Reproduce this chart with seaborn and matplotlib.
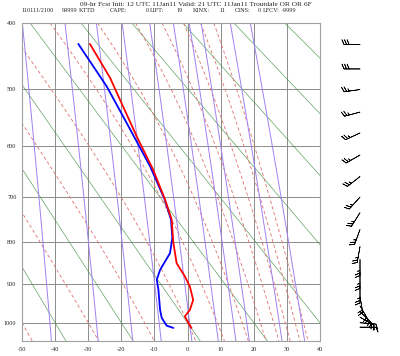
import numpy as np
import matplotlib
matplotlib.use('Agg')
import matplotlib.pyplot as plt
import seaborn as sns

sns.set_style("white")
plt.rcParams['font.family'] = ['Liberation Serif', 'DejaVu Serif']

# sounding (hPa, degC)
pres_t = [430, 482, 518, 583, 644, 706, 749, 800, 849, 881, 906, 940, 966, 983, 1000, 1014]
temp = [-29.5, -23.4, -20.4, -15.3, -10.5, -6.8, -4.8, -4.3, -3.3, -0.8, 0.7, 1.7, 0.7, -0.8, 0.2, 1.2]
pres_d = [430, 496, 558, 639, 706, 749, 790, 825, 865, 889, 914, 966, 987, 1008, 1014]
dewp = [-33.0, -24.4, -18.4, -11.3, -6.9, -5.0, -4.6, -5.3, -8.3, -9.3, -8.8, -8.3, -7.8, -6.3, -4.3]

# winds (hPa, deg, kt)
wind_p = [431, 468, 501, 539, 576, 617, 659, 701, 734, 771, 810, 840, 871, 907, 932, 955, 970, 985, 1000, 1012]
wind_dir = [270, 270, 262, 255, 245, 240, 232, 222, 212, 200, 190, 180, 180, 180, 170, 150, 135, 120, 95, 90]
wind_spd = [30, 30, 25, 25, 25, 25, 25, 25, 25, 25, 25, 25, 25, 25, 20, 20, 20, 20, 15, 15]

# background lines
dry_t1000 = [-40, -20, 0, 20, 40, 60, 80, 100, 120, 140]   # degC at 1000 hPa
moist_t1000 = [-50, -30, -13, 0, 9, 16.5, 22, 26, 29.5, 32.5, 35]
mixr = [0.1, 0.4, 1, 2, 4, 7, 10, 13, 24, 36]  # g/kg

x_ticks = [-50, -40, -30, -20, -10, 0, 10, 20, 30, 40]
p_ticks = [400, 500, 600, 700, 800, 900, 1000]

header1 = "09-hr Fcst Init: 12 UTC 11Jan11 Valid: 21 UTC 11Jan11 Troutdale OR OR 6F"
header2 = [("110111/2100", 21), ("99999", 62), ("KTTD", 79), ("CAPE:", 110), ("0", 146),
           ("LIFT:", 150), ("19", 176), ("KINX:", 193), ("11", 219), ("CINS:", 235),
           ("0", 258), ("LFCV:", 263), ("-9999", 282)]

K = 0.286
fwd = lambda p: np.power(np.abs(p), K)
inv = lambda y: np.power(np.abs(y), 1.0 / K)


def es(tc):
    return 6.112 * np.exp(17.67 * tc / (tc + 243.5))


def moist_line(t0, pp):
    # pseudo-adiabat integrated from 1000 hPa
    out = []
    for direction in (pp[pp <= 1000][::-1], pp[pp > 1000]):
        T = t0 + 273.15
        pl = 1000.0
        seg = []
        for p in direction:
            n = 20
            dp = (p - pl) / n
            for _ in range(n):
                rs = 0.622 * es(T - 273.15) / (pl - es(T - 273.15))
                num = 287.0 * T + 2.5e6 * rs
                den = 1004.0 + 2.5e6 ** 2 * rs * 0.622 / (287.0 * T ** 2)
                T += num / den / pl * dp
                pl += dp
            seg.append(T - 273.15)
        out.append(seg)
    return np.array(out[0][::-1] + out[1])


fig = plt.figure(figsize=(4.0, 3.56), dpi=100)
ax = fig.add_axes([22 / 400, 1 - 341 / 356, 298 / 400, 318 / 356])
ax.set_yscale('function', functions=(fwd, inv))

pp = np.linspace(400, 1050, 80)
for t0 in dry_t1000:
    ax.plot((t0 + 273.15) * (pp / 1000.0) ** K - 273.15, pp, color='#3c8c3c', lw=0.5, alpha=0.8)
for t0 in moist_t1000:
    ax.plot(moist_line(t0, pp), pp, color='#e07070', lw=0.6, ls=(0, (4, 3)))
for r in mixr:
    e = r * pp / (622.0 + r)
    lne = np.log(e / 6.112)
    ax.plot(243.5 * lne / (17.67 - lne), pp, color='#a080f0', lw=0.7)

ax.plot(dewp, pres_d, color='#0000ff', lw=1.3)
ax.plot(temp, pres_t, color='#ff0000', lw=1.3)

ax.set_xlim(-50, 40)
ax.set_ylim(1050, 400)
ax.set_xticks(x_ticks)
ax.set_yticks(p_ticks)
ax.set_xticklabels([str(v) for v in x_ticks])
ax.set_yticklabels([str(v) for v in p_ticks])
ax.yaxis.set_minor_locator(matplotlib.ticker.NullLocator())
ax.tick_params(length=0, labelsize=4.5, pad=4)
ax.grid(True, color='#8c8c8c', lw=0.7)
for s in ax.spines.values():
    s.set_color('#a0a0a0')
    s.set_linewidth(0.8)

# wind barbs
bx = fig.add_axes([322 / 400, 1 - 341 / 356, 78 / 400, 318 / 356])
bx.set_yscale('function', functions=(fwd, inv))
bx.set_ylim(1050, 400)
bx.set_xlim(-38, 40)
d = np.radians(wind_dir)
u = -np.array(wind_spd) * np.sin(d)
v = -np.array(wind_spd) * np.cos(d)
bx.barbs(np.zeros(len(wind_p)), wind_p, u, v, length=4.8, lw=0.5, color='black',
         sizes=dict(spacing=0.16, height=0.3))
bx.axis('off')

fig.text(196 / 400, 1 - 4 / 356, header1, ha='center', va='center', fontsize=5.3)
for s, xp in header2:
    fig.text(xp / 400, 1 - 10 / 356, s, ha='left', va='center', fontsize=4.4)

fig.savefig('out.png', dpi=100)
